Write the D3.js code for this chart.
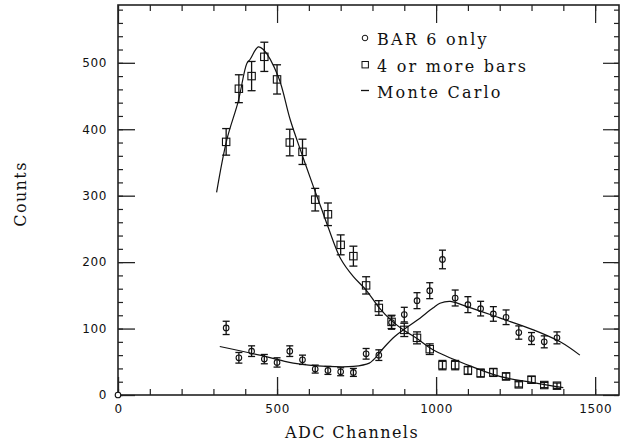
<!DOCTYPE html>
<html>
<head>
<meta charset="utf-8">
<script src="https://cdn.jsdelivr.net/npm/d3@7"></script>
<style>
  body { margin: 0; background: #fff; }
  svg { display: block; }
  .tick text { font-family: "DejaVu Sans", sans-serif; font-size: 12px; letter-spacing: 0.6px; fill: #111; }
  .lbl { font-family: "DejaVu Serif", serif; font-size: 16px; letter-spacing: 1.4px; fill: #111; }
  .leg { letter-spacing: 2.2px; }
</style>
</head>
<body>
<div id="chart"></div>
<script>
// channels of each bin (ADC)
const channels = [340, 380, 420, 460, 500, 540, 580, 620, 660, 700, 740, 780, 820, 860,
                  900, 940, 980, 1020, 1060, 1100, 1140, 1180, 1220, 1260, 1300, 1340, 1380];

// "4 or more bars" (squares)
const multiCounts = [381, 461, 480, 509, 475, 380, 366, 294, 272, 226, 209, 165, 131, 110,
                     98, 86, 69, 45, 45, 37, 33, 34, 28, 16, 23, 15, 14];
const multiErr = [20, 21, 22, 22, 22, 20, 19, 17, 17, 15, 15, 13, 11, 10,
                  10, 9, 8, 7, 7, 6, 6, 6, 5, 4, 5, 4, 4];

// "BAR 6 only" (circles)
const bar6Counts = [101, 56, 66, 54, 49, 66, 53, 39, 37, 35, 34, 62, 60, 109,
                    121, 142, 157, 204, 146, 136, 130, 122, 117, 94, 85, 80, 86];
const bar6Err = [10, 8, 8, 7, 7, 8, 7, 6, 6, 6, 6, 8, 8, 10,
                 11, 12, 12, 14, 12, 12, 11, 11, 11, 10, 9, 9, 9];

// Monte Carlo curves
const mcMultiX = [310, 342, 378, 405, 415, 441, 457, 504, 541, 577, 614, 640, 661, 700, 740,
                  780, 820, 860, 900, 940, 990, 1100, 1200, 1300, 1400];
const mcMultiY = [305, 384, 442, 499, 505, 524, 520, 479, 415, 364, 314, 280, 252, 205, 178,
                  158, 132, 112, 97, 85, 68, 45, 28, 19, 11];
const mcBar6X = [320, 446, 551, 656, 740, 790, 803, 839, 870, 900, 939, 990, 1012, 1044, 1086,
                 1200, 1306, 1390, 1452];
const mcBar6Y = [73, 60, 48, 43, 43, 48, 53, 73, 88, 99, 112, 131, 138, 141, 135,
                 116, 98, 80, 60];

const xMajor = [0, 500, 1000, 1500];
const yMajor = [0, 100, 200, 300, 400, 500];
const legendLabels = ["BAR 6 only", "4 or more bars", "Monte Carlo"];

const w = 622, h = 447;
const mLeft = 118, mRight = 619, mTop = 5, mBottom = 395;

const svg = d3.select("#chart").append("svg")
  .attr("width", w).attr("height", h);

const x = d3.scaleLinear().domain([0, 1575]).range([mLeft, mRight]);
const y = d3.scaleLinear().domain([0, 587]).range([mBottom, mTop]);

const xMinor = d3.range(0, 1575, 100);
const yMinor = d3.range(0, 587, 20);

// ticks without labels, pointing in
function bareTicks(axis, vals, size, tr) {
  svg.append("g").attr("transform", tr)
    .call(axis.tickValues(vals).tickSize(size).tickFormat(""))
    .call(g => g.select(".domain").remove())
    .call(g => g.selectAll("line").attr("stroke", "#222").attr("stroke-width", 1.2));
}
bareTicks(d3.axisBottom(x), xMinor, -6, `translate(0,${mBottom})`);
bareTicks(d3.axisTop(x), xMinor, -6, `translate(0,${mTop})`);
bareTicks(d3.axisLeft(y), yMinor, -5, `translate(${mLeft},0)`);
bareTicks(d3.axisRight(y), yMinor, -5, `translate(${mRight},0)`);

// major ticks
bareTicks(d3.axisTop(x), xMajor, -18, `translate(0,${mTop})`);
bareTicks(d3.axisRight(y), yMajor, -16, `translate(${mRight},0)`);

svg.append("g").attr("transform", `translate(0,${mBottom})`)
  .call(d3.axisBottom(x).tickValues(xMajor).tickSize(-18).tickPadding(9).tickFormat(d3.format("d")))
  .call(g => g.select(".domain").remove())
  .call(g => g.selectAll("line").attr("stroke", "#222").attr("stroke-width", 1.3));

svg.append("g").attr("transform", `translate(${mLeft},0)`)
  .call(d3.axisLeft(y).tickValues(yMajor).tickSize(-17).tickPadding(11).tickFormat(d3.format("d")))
  .call(g => g.select(".domain").remove())
  .call(g => g.selectAll("line").attr("stroke", "#222").attr("stroke-width", 1.3));

// frame
svg.append("rect")
  .attr("x", mLeft).attr("y", mTop)
  .attr("width", mRight - mLeft).attr("height", mBottom - mTop)
  .attr("fill", "none").attr("stroke", "#222").attr("stroke-width", 1.6);

// Monte Carlo lines
const line = d3.line().x(d => x(d[0])).y(d => y(d[1])).curve(d3.curveCatmullRom);
svg.append("path")
  .datum(mcMultiX.map((v, i) => [v, mcMultiY[i]]))
  .attr("d", line).attr("fill", "none").attr("stroke", "#111").attr("stroke-width", 1.2);
svg.append("path")
  .datum(mcBar6X.map((v, i) => [v, mcBar6Y[i]]))
  .attr("d", line).attr("fill", "none").attr("stroke", "#111").attr("stroke-width", 1.2);

// error bars
function errorBars(counts, errs, cap) {
  const g = svg.append("g").attr("stroke", "#111").attr("stroke-width", 1.3);
  channels.forEach((c, i) => {
    const cx = x(c), y1 = y(counts[i] + errs[i]), y2 = y(counts[i] - errs[i]);
    g.append("line").attr("x1", cx).attr("x2", cx).attr("y1", y1).attr("y2", y2);
    g.append("line").attr("x1", cx - cap).attr("x2", cx + cap).attr("y1", y1).attr("y2", y1);
    g.append("line").attr("x1", cx - cap).attr("x2", cx + cap).attr("y1", y2).attr("y2", y2);
  });
}
errorBars(multiCounts, multiErr, 4);
errorBars(bar6Counts, bar6Err, 3.5);

// squares
svg.append("g").selectAll("rect")
  .data(multiCounts)
  .join("rect")
  .attr("x", (d, i) => x(channels[i]) - 3.7)
  .attr("y", d => y(d) - 3.7)
  .attr("width", 7.4).attr("height", 7.4)
  .attr("fill", "none").attr("stroke", "#111").attr("stroke-width", 1.1);

// circles
svg.append("g").selectAll("circle")
  .data(bar6Counts)
  .join("circle")
  .attr("cx", (d, i) => x(channels[i]))
  .attr("cy", d => y(d))
  .attr("r", 2.8)
  .attr("fill", "none").attr("stroke", "#111").attr("stroke-width", 1.1);

// point at origin
svg.append("circle")
  .attr("cx", x(0)).attr("cy", y(0)).attr("r", 2.8)
  .attr("fill", "#fff").attr("stroke", "#111").attr("stroke-width", 1.1);

// legend
const lg = svg.append("g");
const rowY = [45, 71.5, 97.5];
lg.append("circle").attr("cx", 365).attr("cy", rowY[0] - 7).attr("r", 2.8)
  .attr("fill", "none").attr("stroke", "#111");
lg.append("rect").attr("x", 362).attr("y", rowY[1] - 10).attr("width", 6.4).attr("height", 6.4)
  .attr("fill", "none").attr("stroke", "#111");
lg.append("line").attr("x1", 361).attr("x2", 369).attr("y1", rowY[2] - 7).attr("y2", rowY[2] - 7)
  .attr("stroke", "#111").attr("stroke-width", 1.3);
lg.selectAll("text")
  .data(legendLabels)
  .join("text")
  .attr("class", "lbl leg")
  .attr("x", 377)
  .attr("y", (d, i) => rowY[i])
  .text(d => d);

// axis titles
svg.append("text").attr("class", "lbl")
  .attr("x", 352).attr("y", 438).attr("text-anchor", "middle")
  .text("ADC Channels");
svg.append("text").attr("class", "lbl")
  .attr("transform", "translate(26,194) rotate(-90)")
  .attr("text-anchor", "middle")
  .text("Counts");
</script>
</body>
</html>
